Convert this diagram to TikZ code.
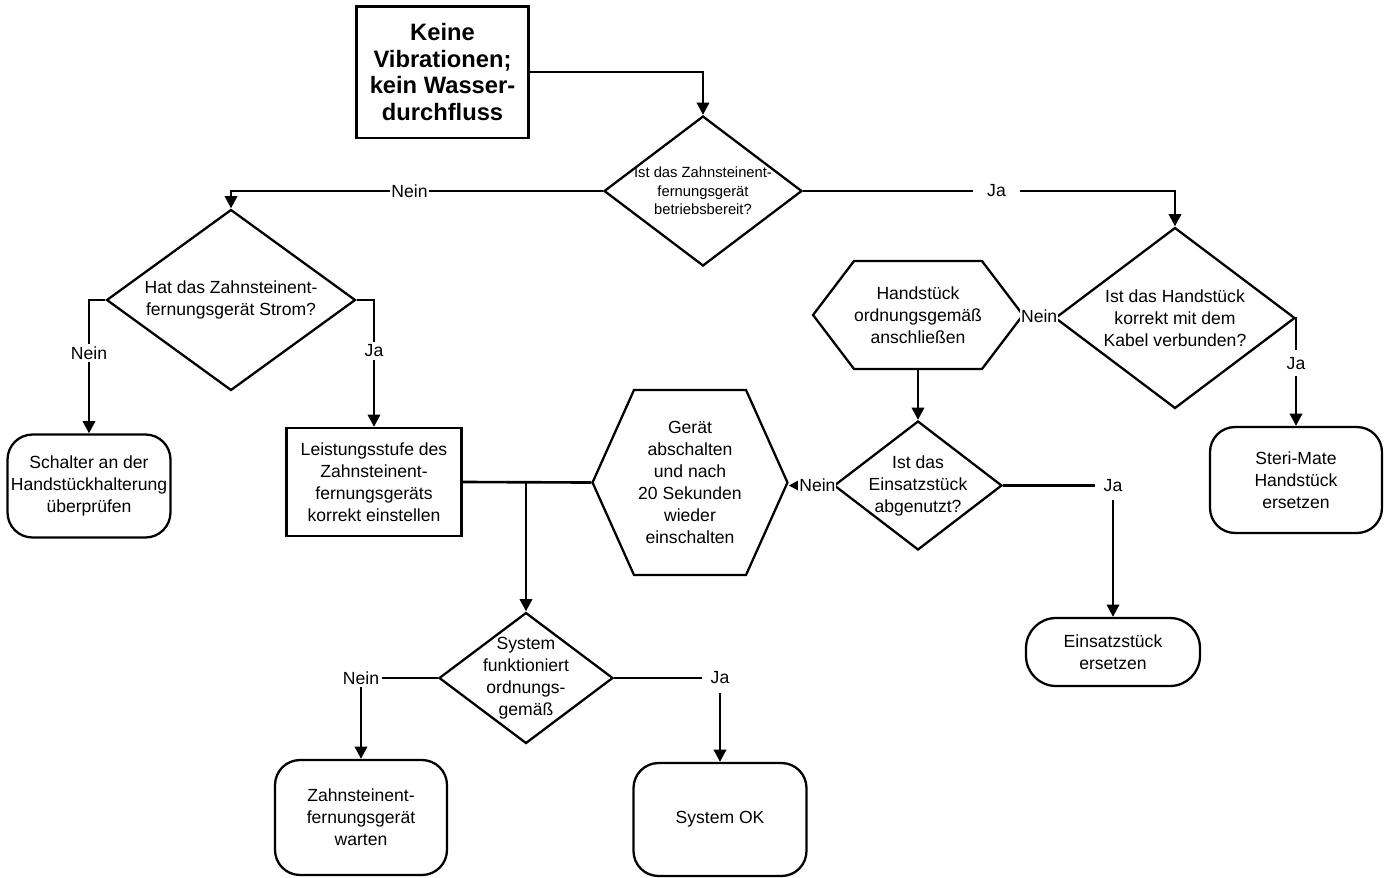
\documentclass[tikz,border=0pt]{standalone}
\usepackage{fontspec}
\setmainfont{Liberation Sans}
\usetikzlibrary{shapes.geometric,shapes.symbols,arrows.meta}

\tikzset{
  shape base/.style={draw, line width=1.3pt, align=center, inner sep=0pt,
    font=\fontsize{10}{12.5}\selectfont},
  question/.style={shape base, diamond, inner sep=-10pt},
  action/.style={shape base, rectangle},
  hexbox/.style={shape base, signal, signal to=east and west},
  endbox/.style={shape base, rectangle, rounded corners=0.5cm},
  ans/.style={fill=white, inner sep=1.5pt, font=\fontsize{10}{12}\selectfont},
  con/.style={line width=1.5pt},
  arr/.style={con, -{Triangle[length=7pt,width=7pt]}},
}

\begin{document}
\begin{tikzpicture}[x=0.02cm, y=-0.02cm]
\useasboundingbox (0,0) rectangle (1384,877);

\node[action, line width=1.7pt, minimum width=3.46cm, minimum height=2.64cm,
  font=\bfseries\fontsize{13.5}{15}\selectfont] (start) at (442.5,72)
  {Keine\\Vibrationen;\\kein Wasser-\\durchfluss};
\node[question, minimum width=3.96cm, minimum height=3cm,
  font=\fontsize{8.4}{10.6}\selectfont] (ready) at (703,191)
  {Ist das Zahnsteinent-\\fernungsgerät\\betriebsbereit?};
\node[question, minimum width=4.98cm, minimum height=3.62cm] (power) at (231,300)
  {Hat das Zahnsteinent-\\fernungsgerät Strom?};
\node[question, minimum width=4.8cm, minimum height=3.62cm] (cable) at (1175,318)
  {Ist das Handstück\\korrekt mit dem\\Kabel verbunden?};
\node[hexbox, signal pointer angle=105.6, minimum width=3.88cm, minimum height=2.16cm]
  (plug) at (918,315) {Handstück\\ordnungsgemäß\\anschließen};
\node[question, minimum width=3.36cm, minimum height=2.58cm] (worn) at (918,485.5)
  {Ist das\\Einsatzstück\\abgenutzt?};
\node[hexbox, signal pointer angle=131.7, minimum width=3.9cm, minimum height=3.7cm]
  (restart) at (690,482.5) {Gerät\\abschalten\\und nach\\20 Sekunden\\wieder\\einschalten};
\node[action, minimum width=3.5cm, minimum height=2.16cm] (level) at (374,482)
  {Leistungsstufe des\\Zahnsteinent-\\fernungsgeräts\\korrekt einstellen};
\node[endbox, minimum width=3.26cm, minimum height=2.06cm] (switch) at (89,486)
  {Schalter an der\\Handstückhalterung\\überprüfen};
\node[endbox, minimum width=3.44cm, minimum height=2.12cm] (steri) at (1296,480)
  {Steri-Mate\\Handstück\\ersetzen};
\node[endbox, rounded corners=0.6cm, minimum width=3.48cm, minimum height=1.36cm]
  (insert) at (1113,652) {Einsatzstück\\ersetzen};
\node[question, minimum width=3.48cm, minimum height=2.62cm] (works) at (526,678)
  {System\\funktioniert\\ordnungs-\\gemäß};
\node[endbox, minimum width=3.44cm, minimum height=2.3cm] (service) at (361,817.5)
  {Zahnsteinent-\\fernungsgerät\\warten};
\node[endbox, minimum width=3.46cm, minimum height=2.26cm] (ok) at (720,819.5)
  {System OK};
\coordinate (split) at (526,482);

\draw[arr] (start.east) -| (ready.north);
\draw[arr] (ready.west) -| node[ans, pos=0.26, inner sep=1pt]{Nein} (power.north);
\draw[arr] (ready.east) -| node[ans, pos=0.26, inner xsep=8pt]{Ja} (cable.north);
\draw[arr] (power.west) -| node[ans, pos=0.7]{Nein} (switch.north);
\draw[arr] (power.east) -| node[ans, pos=0.7]{Ja} (level.north);
\draw[con] (cable.west) -- node[ans, inner sep=0.5pt]{Nein} (plug.east);
\draw[arr] (cable.east) -| node[ans, pos=0.71, inner sep=4pt]{Ja} (steri.north);
\draw[arr] (plug.south) -- (worn.north);
\draw[arr] (worn.west) -- node[ans, pos=0.35, inner sep=0.5pt]{Nein} (restart.east |- worn.west);
\draw[arr] (worn.east) -| node[ans, inner sep=5pt]{Ja} (insert.north);
\draw[con] (level.east) -- (restart.west);
\draw[arr] (split) -- (works.north);
\draw[arr] (works.west) -| node[ans]{Nein} (service.north);
\draw[arr] (works.east) -| node[ans, inner sep=5pt]{Ja} (ok.north);
\end{tikzpicture}
\end{document}
